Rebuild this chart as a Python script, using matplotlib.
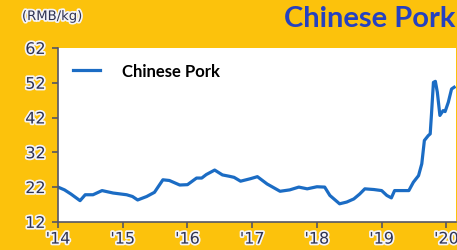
import matplotlib.pyplot as plt
import matplotlib.patheffects as pe

# decimal year / price (RMB per kg)
years = [2014.0, 2014.1, 2014.2, 2014.34, 2014.42, 2014.54, 2014.68, 2014.85,
         2015.06, 2015.15, 2015.23, 2015.37, 2015.49, 2015.62, 2015.72, 2015.88,
         2016.0, 2016.14, 2016.22, 2016.29, 2016.42, 2016.54, 2016.65, 2016.72,
         2016.82, 2016.97, 2017.08, 2017.23, 2017.43, 2017.58, 2017.72, 2017.85,
         2018.0, 2018.12, 2018.2, 2018.35, 2018.46, 2018.57, 2018.66, 2018.74,
         2018.88, 2019.0, 2019.08, 2019.15, 2019.2, 2019.42, 2019.49, 2019.57,
         2019.62, 2019.66, 2019.72, 2019.75, 2019.77, 2019.8, 2019.83, 2019.86,
         2019.9, 2019.95, 2019.98, 2020.03, 2020.08, 2020.12]
prices = [22.0, 21.2, 20.0, 18.1, 19.8, 19.8, 21.0, 20.3,
          19.8, 19.3, 18.3, 19.3, 20.5, 24.1, 23.9, 22.6,
          22.7, 24.6, 24.6, 25.6, 26.9, 25.5, 25.1, 24.8,
          23.7, 24.4, 25.0, 22.9, 20.8, 21.2, 22.0, 21.5,
          22.1, 22.0, 19.6, 17.2, 17.7, 18.6, 20.0, 21.5,
          21.3, 21.0, 19.6, 18.9, 21.0, 21.0, 23.4, 25.3,
          28.7, 35.4, 36.8, 37.3, 43.0, 52.1, 52.4, 49.3,
          42.6, 44.0, 43.7, 46.4, 50.2, 50.7]

yticks = [12, 22, 32, 42, 52, 62]
xticks = [2014, 2015, 2016, 2017, 2018, 2019, 2020]
xlabels = ["'14", "'15", "'16", "'17", "'18", "'19", "'20"]

gold = '#fcc20c'
navy = '#2f3352'
halo = [pe.withStroke(linewidth=2.5, foreground='#f4f4f8')]

fig = plt.figure(figsize=(4.57, 2.51), dpi=100, facecolor=gold)
ax = fig.add_axes([0.127, 0.112, 0.871, 0.693])
ax.set_facecolor('white')

ax.plot(years, prices, color='#1b6cc4', lw=2.3, label='Chinese Pork')

ax.set_xlim(2014, 2020.15)
ax.set_ylim(12, 62)
ax.set_yticks(yticks)
ax.set_xticks(xticks)
ax.set_xticklabels(xlabels)

for s in ['top', 'right']:
    ax.spines[s].set_visible(False)
for s in ['left', 'bottom']:
    ax.spines[s].set_color('#555566')
    ax.spines[s].set_linewidth(1.2)
ax.tick_params(colors='#555566', length=4, width=1.2, labelcolor=navy, labelsize=11.5)
ax.tick_params(axis='y', pad=5)
ax.tick_params(axis='x', pad=3)
for lbl in ax.get_xticklabels() + ax.get_yticklabels():
    lbl.set_path_effects(halo)

leg = ax.legend(loc='upper left', frameon=False, handlelength=1.6, handletextpad=1.35,
                prop={'weight': 'bold', 'size': 12, 'family': 'Lato'},
                bbox_to_anchor=(0.0, 1.0), borderaxespad=0.5)

fig.text(0.048, 0.93, '(RMB/kg)', color=navy, fontsize=9.5, va='center',
         path_effects=halo)
fig.text(0.996, 0.925, 'Chinese Pork', color='#2541c0', fontsize=21,
         fontweight='bold', family='Lato', ha='right', va='center')

fig.savefig('out.png', dpi=100, facecolor=gold)
